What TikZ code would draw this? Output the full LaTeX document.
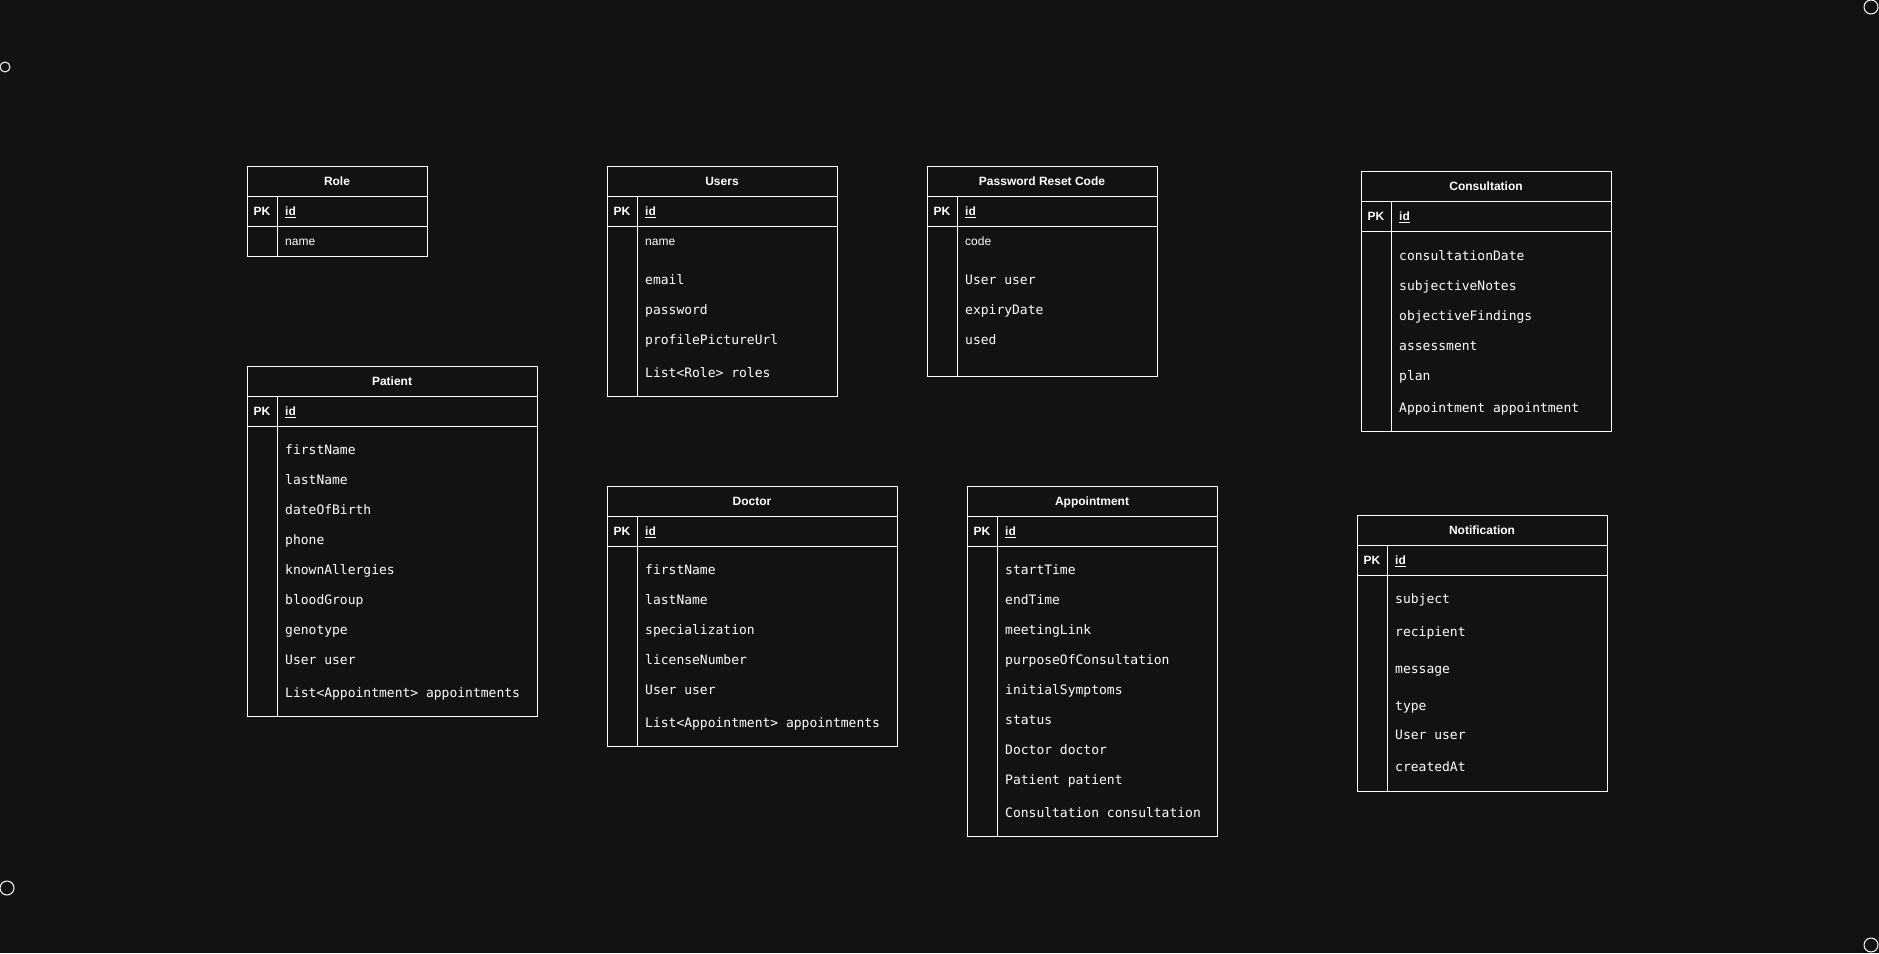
\documentclass[tikz,border=0pt]{standalone}
\usepackage{fontspec}
\setmainfont{Liberation Sans}
\newfontfamily\codefont{DejaVu Sans Mono}
\usetikzlibrary{positioning}
\definecolor{bgdark}{HTML}{121212}

\newcommand{\entity}[6]{
	\node[tablebox, minimum width = #4, minimum height = #5] (#1) at (#2, #3) {};
	\draw[rowline] (#2, #3+30) -- ++(#4, 0);
	\draw[rowline] (#2, #3+60) -- ++(#4, 0);
	\draw[rowline] (#2+30, #3+30) -- (#2+30, #3+#5);
	\node[headtext] (#1-title) at (#2+#4/2, #3+15) {#6};
	\node[headtext] (#1-pk) at (#2+15, #3+45) {PK};
	\node[headtext, anchor = base west] (#1-id) at (#2+38, #3+45) {\underline{id}};
}

\begin{document}
\begin{tikzpicture}[x=1pt, y=-1pt,
	tablebox/.style = {draw, white, line width = 1pt, rectangle, anchor = north west, inner sep = 0pt},
	rowline/.style = {white, line width = 1pt},
	headtext/.style = {text = white, inner sep = 0pt, anchor = base, yshift = -4.5pt, font = \bfseries\fontsize{12}{14}\selectfont},
	field/.style = {text = white, inner sep = 0pt, anchor = base west, yshift = -5.7pt, font = \codefont\fontsize{13}{15}\selectfont},
	plainfield/.style = {text = white, inner sep = 0pt, anchor = base west, yshift = -4.5pt, font = \fontsize{12}{14}\selectfont},
	corner/.style = {draw, white, line width = 1pt, circle, inner sep = 0pt}]
		\fill[bgdark] (0,0) rectangle (1879,953);
		\useasboundingbox (0,0) rectangle (1879,953);

		\node[corner, minimum size = 10] (mark_tl) at (5,67) {};
		\node[corner, minimum size = 14] (mark_tr) at (1871,7) {};
		\node[corner, minimum size = 14] (mark_bl) at (7,888) {};
		\node[corner, minimum size = 14] (mark_br) at (1871,945) {};

		\entity{role}{247}{166}{180}{90}{Role}
		\entity{users}{607}{166}{230}{230}{Users}
		\entity{reset}{927}{166}{230}{210}{Password Reset Code}
		\entity{consult}{1361}{171}{250}{260}{Consultation}
		\entity{patient}{247}{366}{290}{350}{Patient}
		\entity{doctor}{607}{486}{290}{260}{Doctor}
		\entity{appoint}{967}{486}{250}{350}{Appointment}
		\entity{notify}{1357}{515}{250}{276}{Notification}

		\node[plainfield] (role_name) at (285,241) {name};

		\node[plainfield] (users_name) at (645,241) {name};
		\node[field] (users_email) at (645,279) {email};
		\node[field] (users_pass) at (645,309) {password};
		\node[field] (users_pic) at (645,339) {profilePictureUrl};
		\node[field] (users_roles) at (645,372) {List<Role> roles};

		\node[plainfield] (reset_code) at (965,241) {code};
		\node[field] (reset_user) at (965,279) {User user};
		\node[field] (reset_expiry) at (965,309) {expiryDate};
		\node[field] (reset_used) at (965,339) {used};

		\node[field] (consult_date) at (1399,255) {consultationDate};
		\node[field] (consult_subj) at (1399,285) {subjectiveNotes};
		\node[field] (consult_obj) at (1399,315) {objectiveFindings};
		\node[field] (consult_assess) at (1399,345) {assessment};
		\node[field] (consult_plan) at (1399,375) {plan};
		\node[field] (consult_appt) at (1399,407) {Appointment appointment};

		\node[field] (patient_first) at (285,449) {firstName};
		\node[field] (patient_last) at (285,479) {lastName};
		\node[field] (patient_dob) at (285,509) {dateOfBirth};
		\node[field] (patient_phone) at (285,539) {phone};
		\node[field] (patient_allergy) at (285,569) {knownAllergies};
		\node[field] (patient_blood) at (285,599) {bloodGroup};
		\node[field] (patient_geno) at (285,629) {genotype};
		\node[field] (patient_user) at (285,659) {User user};
		\node[field] (patient_appts) at (285,692) {List<Appointment> appointments};

		\node[field] (doctor_first) at (645,569) {firstName};
		\node[field] (doctor_last) at (645,599) {lastName};
		\node[field] (doctor_spec) at (645,629) {specialization};
		\node[field] (doctor_license) at (645,659) {licenseNumber};
		\node[field] (doctor_user) at (645,689) {User user};
		\node[field] (doctor_appts) at (645,722) {List<Appointment> appointments};

		\node[field] (appoint_start) at (1005,569) {startTime};
		\node[field] (appoint_end) at (1005,599) {endTime};
		\node[field] (appoint_link) at (1005,629) {meetingLink};
		\node[field] (appoint_purpose) at (1005,659) {purposeOfConsultation};
		\node[field] (appoint_symp) at (1005,689) {initialSymptoms};
		\node[field] (appoint_status) at (1005,719) {status};
		\node[field] (appoint_doctor) at (1005,749) {Doctor doctor};
		\node[field] (appoint_patient) at (1005,779) {Patient patient};
		\node[field] (appoint_consult) at (1005,812) {Consultation consultation};

		\node[field] (notify_subject) at (1395,598) {subject};
		\node[field] (notify_recip) at (1395,631) {recipient};
		\node[field] (notify_msg) at (1395,668) {message};
		\node[field] (notify_type) at (1395,705) {type};
		\node[field] (notify_user) at (1395,734) {User user};
		\node[field] (notify_created) at (1395,766) {createdAt};
	\end{tikzpicture}
\end{document}
